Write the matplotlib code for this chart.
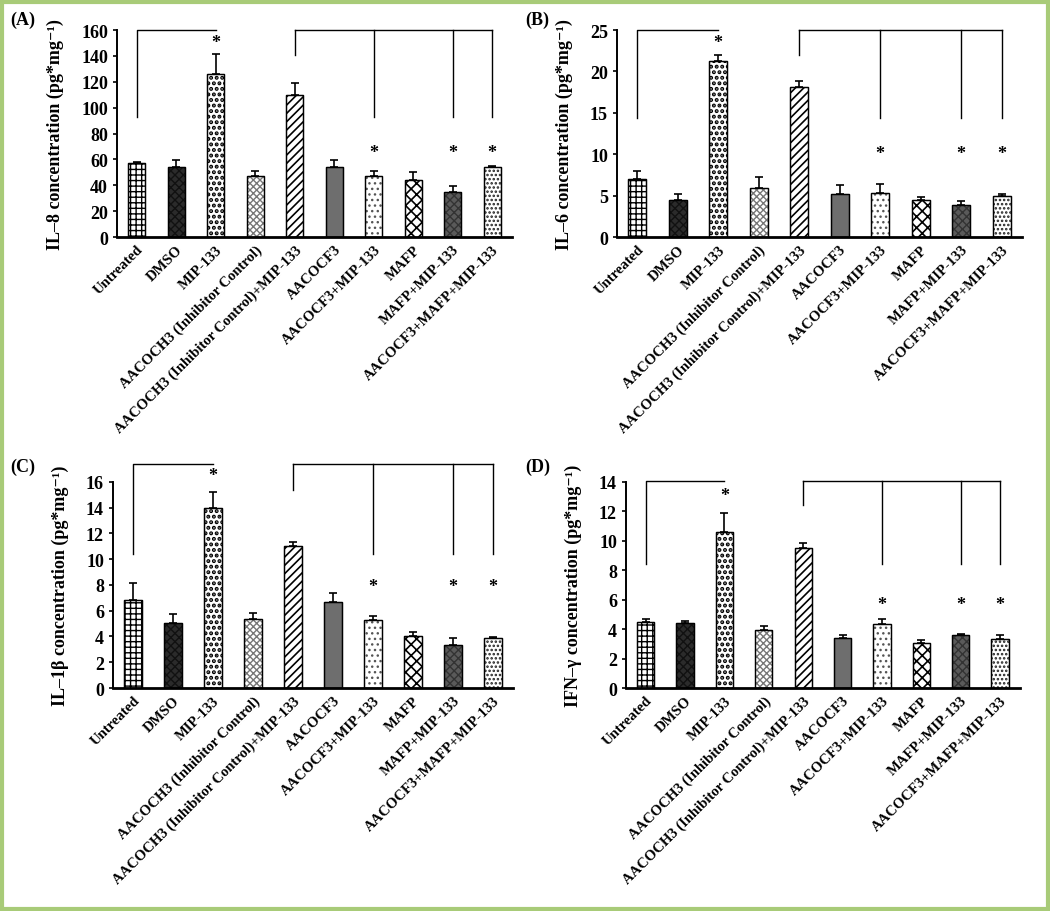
import matplotlib.pyplot as plt
from matplotlib.patches import Rectangle
import numpy as np

plt.rcParams["font.family"] = ["Liberation Serif", "DejaVu Serif"]
plt.rcParams["font.weight"] = "bold"
plt.rcParams["hatch.linewidth"] = 1.0

groups = ["Untreated", "DMSO", "MIP-133", "AACOCH3 (Inhibitor Control)",
          "AACOCH3 (Inhibitor Control)+MIP-133", "AACOCF3", "AACOCF3+MIP-133",
          "MAFP", "MAFP+MIP-133", "AACOCF3+MAFP+MIP-133"]

il8 = [57, 54.4, 125.8, 47.3, 109.7, 54.4, 47.3, 43.7, 34.9, 53.9]
il8_err = [1.0, 5.0, 16.0, 3.8, 9.7, 5.4, 3.5, 6.6, 4.6, 1.3]

il6 = [7.0, 4.5, 21.2, 5.94, 18.14, 5.2, 5.26, 4.45, 3.85, 5.0]
il6_err = [0.95, 0.75, 0.75, 1.3, 0.72, 1.1, 1.1, 0.4, 0.45, 0.15]

il1b = [6.86, 5.05, 14.0, 5.36, 11.03, 6.66, 5.26, 4.02, 3.34, 3.89]
il1b_err = [1.33, 0.67, 1.2, 0.5, 0.3, 0.75, 0.31, 0.36, 0.55, 0.1]

ifng = [4.47, 4.45, 10.63, 3.97, 9.5, 3.43, 4.33, 3.07, 3.57, 3.34]
ifng_err = [0.23, 0.13, 1.25, 0.23, 0.37, 0.14, 0.37, 0.16, 0.13, 0.27]

# bar looks: (facecolor, hatch, hatch colour, hatch width)
looks = [("white", "+++", "black", 1.0),
         ("#2b2b2b", "xxxx", "#111111", 1.0),
         ("white", "...", "black", 2.0),
         ("white", "xxxxx", "#777777", 1.0),
         ("white", "////", "black", 1.2),
         ("#6e6e6e", "", "black", 1.0),
         ("white", "...", "#555555", 1.0),
         ("white", "xxx", "black", 1.2),
         ("#5a5a5a", "xxxx", "#333333", 1.0),
         ("white", "....", "#222222", 1.2)]

panels = [
    # label, values, errors, ylabel, ymax, step, axes rect, top, drops, star_hi, star_lo, label pos
    ("(A)", il8, il8_err, "IL\u20138 concentration (pg*mg\u207b\u00b9)", 160, 20,
     [0.1114, 0.739, 0.3762, 0.227], 160, 92.4, 141, 150.7, 65.5, (0.010, 0.978)),
    ("(B)", il6, il6_err, "IL\u20136 concentration (pg*mg\u207b\u00b9)", 25, 5,
     [0.5876, 0.739, 0.3857, 0.227], 25, 14.4, 21.95, 23.5, 10.1, (0.500, 0.978)),
    ("(C)", il1b, il1b_err, "IL\u20131\u03b2 concentration (pg*mg\u207b\u00b9)", 16, 2,
     [0.1076, 0.2445, 0.381, 0.226], 17.4, 10.4, 15.4, 16.5, 7.9, (0.010, 0.488)),
    ("(D)", ifng, ifng_err, "IFN\u2013\u03b3 concentration (pg*mg\u207b\u00b9)", 14, 2,
     [0.5962, 0.2445, 0.375, 0.226], 14.07, 8.4, 12.4, 13.1, 5.7, (0.500, 0.488)),
]

fig = plt.figure(figsize=(10.5, 9.12), dpi=100)

x = np.arange(len(groups))
for lab, vals, errs, ylab, ymax, step, rect, top, drop, drop_hi, star_hi, star_lo, lpos in panels:
    ax = fig.add_axes(rect)
    for i in range(len(groups)):
        fc, h, hc, hw = looks[i]
        b = ax.bar(x[i], vals[i], width=0.44, color=fc, hatch=h, edgecolor=hc,
                   linewidth=0.8, zorder=2)
        b[0].set_hatch_linewidth(hw)
        ax.bar(x[i], vals[i], width=0.44, color="none", edgecolor="black",
               linewidth=1.0, zorder=3)
    ax.errorbar(x, vals, yerr=[np.zeros(len(errs)), errs], fmt="none",
                ecolor="black", elinewidth=1.2, capsize=3, capthick=1.2, zorder=4)
    ax.set_xlim(-0.5, 9.5)
    ax.set_ylim(0, ymax)
    ax.set_yticks(np.arange(0, ymax + 0.01, step))
    ax.tick_params(axis="y", labelsize=13, length=3, width=1.2)
    ax.tick_params(axis="x", length=0, pad=4)
    ax.set_xticks(x)
    ax.set_xticklabels(groups, rotation=45, ha="right", rotation_mode="anchor",
                       fontsize=10.5, fontweight="bold")
    for t in ax.get_yticklabels():
        t.set_fontweight("bold")
    ax.set_ylabel(ylab, fontsize=13, fontweight="bold", labelpad=12)
    for s in ["top", "right"]:
        ax.spines[s].set_visible(False)
    ax.spines["left"].set_linewidth(1.4)
    ax.spines["bottom"].set_linewidth(2.0)

    # significance brackets
    kw = dict(color="black", linewidth=1.0, clip_on=False)
    ax.plot([x[0], x[0], x[2]], [drop, top, top], **kw)
    ax.plot([x[4], x[4]], [drop_hi, top], **kw)
    ax.plot([x[4], x[9]], [top, top], **kw)
    for j in (6, 8, 9):
        ax.plot([x[j], x[j]], [top, drop], **kw)
    ax.text(x[2], star_hi, "*", ha="center", va="center", fontsize=13,
            fontweight="bold", clip_on=False)
    for j in (6, 8, 9):
        ax.text(x[j], star_lo, "*", ha="center", va="center", fontsize=13,
                fontweight="bold")

    fig.text(lpos[0], lpos[1], lab, fontsize=13, fontweight="bold",
             ha="left", va="center")

fig.patches.append(Rectangle((0.002, 0.002), 0.996, 0.995, transform=fig.transFigure,
                             fill=False, edgecolor="#a8cb78", linewidth=3))

fig.savefig("out.png", dpi=100)
